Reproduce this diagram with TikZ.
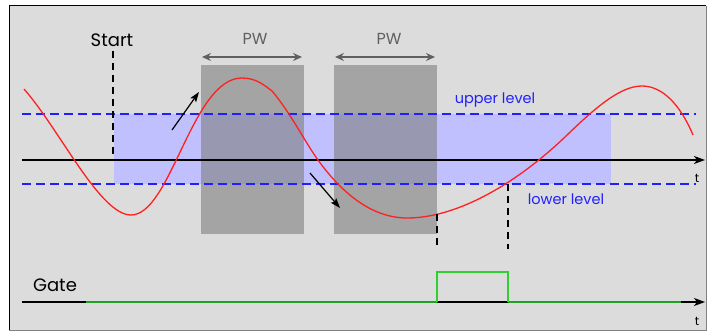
\documentclass[tikz,border=0pt]{standalone}
\usepackage{fontspec}
\setmainfont{Poppins}
\usetikzlibrary{arrows.meta}
\definecolor{bg}{HTML}{DCDCDC}
\definecolor{bandblue}{HTML}{C0C0FF}
\definecolor{pwgray}{HTML}{A4A4A4}
\definecolor{overlapc}{HTML}{9898B0}
\definecolor{lvlblue}{HTML}{2020FF}
\definecolor{dimgray}{HTML}{606060}
\definecolor{sigred}{HTML}{FF2020}
\definecolor{gatelow}{HTML}{22A022}
\definecolor{gatehigh}{HTML}{30D030}
\tikzset{
  level/.style={draw=lvlblue, line width=1.2pt, dash pattern=on 9pt off 5pt},
  vdash/.style={draw=black, line width=1.1pt, dash pattern=on 7pt off 5pt},
  axisline/.style={draw=black, line width=1.2pt, -{Stealth[length=11pt,width=8pt,inset=3pt]}},
  pwarrow/.style={draw=dimgray, line width=1.6pt, {Stealth[length=9pt,width=8pt,inset=3pt]}-{Stealth[length=9pt,width=8pt,inset=3pt]}},
  dirarrow/.style={draw=black, line width=1.2pt, -{Stealth[length=10pt,width=7pt,inset=2pt]}},
  lbl/.style={inner sep=0pt, anchor=base},
}
\begin{document}
\begin{tikzpicture}[x=1pt,y=-1pt]
\useasboundingbox (0,0) rectangle (707,331);
% panel
\fill[bg] (9,6) rectangle (706,330);
% band and PW windows
\fill[bandblue] (114,114) rectangle (611,184);
\fill[pwgray] (201,65) rectangle (304,234);
\fill[pwgray] (334,65) rectangle (437,234);
\fill[overlapc] (201,114) rectangle (304,184);
\fill[overlapc] (334,114) rectangle (437,184);
% coordinates
\coordinate (ulA) at (22,114); \coordinate (ulB) at (696,114);
\coordinate (llA) at (22,184); \coordinate (llB) at (696,184);
\coordinate (axA) at (22,160); \coordinate (axB) at (705,160);
\coordinate (stA) at (113,51); \coordinate (stB) at (113,160);
% level lines
\draw[level] (ulA) -- (ulB);
\draw[level] (llA) -- (llB);
% main axis
\draw[axisline] (axA) -- (axB);
% start marker
\draw[vdash] (stA) -- (stB);
% signal
\draw[sigred, line width=1.3pt] (24,89) .. controls (60,130) and (100,215) .. (131,215)
 .. controls (171,215) and (192,78) .. (242,78)
 .. controls (256,78) and (264,85) .. (272,91)
 .. controls (290,112) and (305,142) .. (318,160)
 .. controls (345,197.4) and (375,218) .. (407,218)
 .. controls (460,218) and (520,180) .. (565,137)
 .. controls (595,108) and (620,86) .. (642,86)
 .. controls (662,86) and (680,104) .. (693,135);
% direction arrows
\coordinate (upA) at (172,130); \coordinate (upB) at (199,92);
\coordinate (dnA) at (310,173); \coordinate (dnB) at (340,208);
\draw[dirarrow] (upA) -- (upB);
\draw[dirarrow] (dnA) -- (dnB);
% PW arrows
\coordinate (pw1A) at (202,57); \coordinate (pw1B) at (302,57);
\coordinate (pw2A) at (335,57); \coordinate (pw2B) at (435,57);
\draw[pwarrow] (pw1A) -- (pw1B);
\draw[pwarrow] (pw2A) -- (pw2B);
% dashed verticals
\coordinate (v1A) at (437,214); \coordinate (v1B) at (437,249);
\coordinate (v2A) at (508,184); \coordinate (v2B) at (508,249);
\draw[vdash] (v1A) -- (v1B);
\draw[vdash] (v2A) -- (v2B);
% gate axis
\coordinate (gA) at (22,302); \coordinate (gB) at (705,302);
\draw[axisline] (gA) -- (gB);
\draw[gatelow, line width=2pt] (86,302) -- (437,302);
\draw[gatelow, line width=2pt] (508,302) -- (681,302);
\draw[gatehigh, line width=1.6pt] (437,302) -- (437,272) -- (508,272) -- (508,302);
% labels
\node[lbl, font=\fontsize{18}{20}\selectfont] (start) at (112,47) {Start};
\node[lbl, font=\fontsize{16}{18}\selectfont, text=dimgray] (pw1) at (255,45) {PW};
\node[lbl, font=\fontsize{16}{18}\selectfont, text=dimgray] (pw2) at (389,45) {PW};
\node[lbl, font=\fontsize{14.5}{16}\selectfont, text=lvlblue] (upper) at (495,104) {upper level};
\node[lbl, font=\fontsize{14.5}{16}\selectfont, text=lvlblue] (lower) at (566,205) {lower level};
\node[lbl, font=\fontsize{18}{20}\selectfont] (gate) at (55,291) {Gate};
\node[lbl, font=\fontsize{12}{14}\selectfont] (t1) at (697,183) {t};
\node[lbl, font=\fontsize{12}{14}\selectfont] (t2) at (697,325) {t};
% frame
\draw[black, line width=1pt] (9,330) -- (9,6) -- (706,6);
\draw[gray, line width=1pt] (706,6) -- (706,330) -- (9,330);
\end{tikzpicture}
\end{document}
